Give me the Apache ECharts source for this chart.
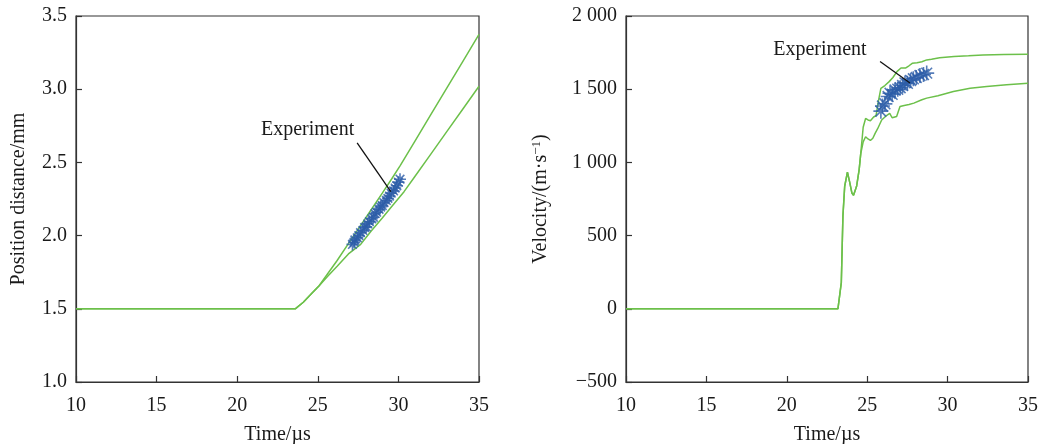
<!DOCTYPE html>
<html>
<head>
<meta charset="utf-8">
<script src="https://cdn.jsdelivr.net/npm/echarts@6/dist/echarts.min.js"></script>
<style>html,body{margin:0;padding:0;background:#fff}#c{width:1040px;height:444px}</style>
</head>
<body>
<div id="c"></div>
<script>
// ---- Position (left panel) ----
const posTimeUpper = [10, 23.6, 24.1, 24.66, 25.07, 25.6, 26.2, 26.94, 27.6, 28.3, 29.0, 29.6, 30.12, 31.0, 32.0, 33.0, 34.0, 35.0];
const posUpper     = [1.5, 1.5, 1.545, 1.61, 1.656, 1.738, 1.83, 1.952, 2.06, 2.175, 2.29, 2.39, 2.48, 2.64, 2.824, 3.007, 3.19, 3.374];
const posTimeLower = [10, 23.6, 24.1, 24.66, 25.07, 25.6, 26.2, 26.9, 27.66, 28.3, 29.0, 29.6, 30.35, 31.0, 32.0, 33.0, 34.0, 35.0];
const posLower     = [1.5, 1.5, 1.545, 1.61, 1.656, 1.72, 1.79, 1.875, 1.94, 2.03, 2.12, 2.2, 2.3, 2.4, 2.555, 2.71, 2.865, 3.02];
const posExpTime = [27.15, 27.25, 27.3, 27.45, 27.55, 27.65, 27.8, 27.9, 28.0, 28.1, 28.2, 28.35, 28.45, 28.55, 28.65, 28.8, 28.9, 29.0, 29.1, 29.25, 29.35, 29.45, 29.55, 29.7, 29.8, 29.9, 30.0, 30.1];
const posExp     = [1.94, 1.955, 1.97, 1.985, 2.0, 2.02, 2.035, 2.055, 2.06, 2.08, 2.095, 2.115, 2.125, 2.15, 2.16, 2.18, 2.195, 2.205, 2.225, 2.24, 2.255, 2.27, 2.29, 2.305, 2.325, 2.34, 2.365, 2.385];

// ---- Velocity (right panel) ----
const velTimeUpper = [10, 23.18, 23.39, 23.49, 23.6, 23.77, 23.9, 24.05, 24.15, 24.34, 24.5, 24.65, 24.75, 24.9, 25.05, 25.2, 25.4, 25.55, 25.7, 25.85, 26.1, 26.35, 26.6, 26.85, 27.1, 27.4, 27.6, 27.8, 28.1, 28.4, 28.7, 29.0, 29.5, 30.4, 31.3, 32.2, 33.5, 35.0];
const velUpper     = [0, 0, 179, 633, 837, 933, 870, 790, 775, 837, 951, 1120, 1240, 1300, 1290, 1285, 1310, 1320, 1420, 1505, 1525, 1550, 1580, 1620, 1645, 1645, 1660, 1677, 1680, 1688, 1700, 1705, 1715, 1723, 1728, 1734, 1737, 1739];
const velTimeLower = [10, 23.18, 23.39, 23.49, 23.6, 23.77, 23.9, 24.05, 24.15, 24.34, 24.5, 24.6, 24.75, 24.9, 25.05, 25.2, 25.35, 25.5, 25.65, 25.9, 26.2, 26.4, 26.55, 26.83, 27.04, 27.3, 27.6, 27.9, 28.4, 28.7, 29.4, 30.36, 31.4, 32.43, 33.67, 35.0];
const velLower     = [0, 0, 179, 633, 837, 933, 870, 790, 775, 837, 951, 1060, 1140, 1175, 1160, 1150, 1165, 1200, 1230, 1290, 1320, 1335, 1305, 1314, 1382, 1388, 1395, 1405, 1428, 1439, 1455, 1484, 1507, 1518, 1530, 1541];
const velExpTime = [25.85, 25.95, 26.1, 26.3, 26.42, 26.55, 26.73, 26.9, 27.05, 27.2, 27.35, 27.5, 27.7, 27.87, 28.05, 28.28, 28.5, 28.7];
const velExp     = [1350, 1385, 1400, 1450, 1472, 1465, 1494, 1500, 1510, 1525, 1543, 1540, 1560, 1571, 1580, 1593, 1600, 1610];

// ---- Ticks ----
const timeTicks = [10, 15, 20, 25, 30, 35];
const posTicks = [1.0, 1.5, 2.0, 2.5, 3.0, 3.5];
const posTickLabels = ['1.0', '1.5', '2.0', '2.5', '3.0', '3.5'];
const velTicks = [-500, 0, 500, 1000, 1500, 2000];
const velTickLabels = ['\u2212500', '0', '500', '1 000', '1 500', '2 000'];

const FONT = 'Liberation Serif';
const TXT = '#1a1a1a';
const GREEN = '#6cc04a';
const BLUE = '#2c5ca8';
const STAR = 'path://M5,0L5,10M0,5L10,5M1.4,1.4L8.6,8.6M8.6,1.4L1.4,8.6';

const zip = (a, b) => a.map((v, i) => [v, b[i]]);

function xAxisCfg(idx) {
  return {
    gridIndex: idx, type: 'value', min: timeTicks[0], max: timeTicks[timeTicks.length - 1], interval: 5,
    name: 'Time/\u00b5s', nameLocation: 'middle', nameGap: 43,
    nameTextStyle: { fontFamily: FONT, fontSize: 20, color: TXT },
    axisLine: { show: true, onZero: false, lineStyle: { color: '#333', width: 1.2 } },
    axisTick: { show: true, inside: true, length: 6, lineStyle: { color: '#333', width: 1.2 } },
    axisLabel: { margin: 14, fontFamily: FONT, fontSize: 20, color: TXT },
    splitLine: { show: false }
  };
}
function yAxisCfg(idx, ticks, labels, name, gap) {
  return {
    gridIndex: idx, type: 'value', min: ticks[0], max: ticks[ticks.length - 1], interval: ticks[1] - ticks[0],
    name: name, nameLocation: 'middle', nameGap: gap,
    nameTextStyle: { fontFamily: FONT, fontSize: 20, color: TXT,
      rich: { a: { fontFamily: FONT, fontSize: 20, color: TXT, lineHeight: 22 },
              b: { fontFamily: FONT, fontSize: 13, color: TXT, lineHeight: 22, verticalAlign: 'top', padding: [0, 0, 8, 0] } } },
    axisLine: { show: true, onZero: false, lineStyle: { color: '#333', width: 1.2 } },
    axisTick: { show: true, inside: true, length: 6, lineStyle: { color: '#333', width: 1.2 } },
    axisLabel: { margin: 9, fontFamily: FONT, fontSize: 20, color: TXT,
      formatter: v => { const i = ticks.findIndex(t => Math.abs(t - v) < 1e-9); return i >= 0 ? labels[i] : ''; } },
    splitLine: { show: false }
  };
}
const lineS = (xi, data) => ({ type: 'line', xAxisIndex: xi, yAxisIndex: xi, data, showSymbol: false, symbol: 'none',
  lineStyle: { color: GREEN, width: 1.5 }, animation: false, z: 2 });
const scatterS = (xi, data, size, ann) => ({
  type: 'scatter', xAxisIndex: xi, yAxisIndex: xi, data, symbol: STAR, symbolSize: size,
  itemStyle: { color: 'rgba(0,0,0,0)', borderColor: BLUE, borderWidth: 1.6 }, animation: false, z: 3,
  markLine: { silent: true, symbol: ['none', 'none'], animation: false,
    lineStyle: { color: '#111', width: 1.3, type: 'solid' }, label: { show: false },
    data: [[{ coord: ann.from }, { coord: ann.to }]] },
  markPoint: { silent: true, animation: false, symbol: 'circle', symbolSize: 1,
    itemStyle: { color: 'rgba(0,0,0,0)' },
    label: { show: true, position: 'inside', formatter: 'Experiment', fontFamily: FONT, fontSize: 20, color: TXT },
    data: [{ coord: ann.text }] }
});

const chart = echarts.init(document.getElementById('c'), null, { renderer: 'canvas' });
chart.setOption({
  backgroundColor: '#fff',
  animation: false,
  grid: [
    { left: 76, right: 561, top: 16, bottom: 62, containLabel: false, outerBoundsMode: 'none', show: true, borderColor: '#333', borderWidth: 1.2, backgroundColor: 'transparent' },
    { left: 626, right: 12, top: 16, bottom: 62, containLabel: false, outerBoundsMode: 'none', show: true, borderColor: '#333', borderWidth: 1.2, backgroundColor: 'transparent' }
  ],
  xAxis: [xAxisCfg(0), xAxisCfg(1)],
  yAxis: [
    yAxisCfg(0, posTicks, posTickLabels, 'Position distance/mm', 47),
    yAxisCfg(1, velTicks, velTickLabels, '{a|Velocity/(m\u00b7s}{b|\u22121}{a|)}', 74)
  ],
  series: [
    lineS(0, zip(posTimeUpper, posUpper)),
    lineS(0, zip(posTimeLower, posLower)),
    scatterS(0, zip(posExpTime, posExp), 12, { from: [27.44, 2.633], to: [29.53, 2.30], text: [24.37, 2.72] }),
    lineS(1, zip(velTimeUpper, velUpper)),
    lineS(1, zip(velTimeLower, velLower)),
    scatterS(1, zip(velExpTime, velExp), 15, { from: [25.8, 1689], to: [27.66, 1542], text: [22.06, 1768] })
  ]
});
</script>
</body>
</html>
